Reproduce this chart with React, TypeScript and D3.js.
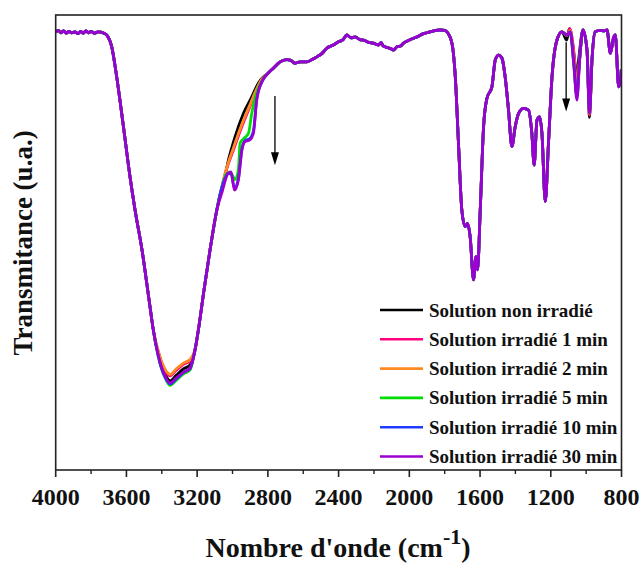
import React from 'react';
import * as d3 from 'd3';

const seriesNames = [
  'Solution non irradié',
  'Solution irradié 1 min',
  'Solution irradié 2 min',
  'Solution irradié 5 min',
  'Solution irradié 10 min',
  'Solution irradié 30 min',
];
const seriesColors = ['#000000', '#ff0080', '#ff8a24', '#00dd00', '#1f3cff', '#9a00d0'];

const xTickLabels = [4000, 3600, 3200, 2800, 2400, 2000, 1600, 1200, 800];
const xMinorTicks = [3800, 3400, 3000, 2600, 2200, 1800, 1400, 1000];

// common trace (30 min), [wavenumber cm-1, transmittance a.u.]
const baseSpectrum: [number, number][] = [
  [3998, 96.3], [3985, 96.6], [3970, 96.1], [3955, 96.5], [3940, 96.0], [3925, 96.4],
  [3910, 96.1], [3891, 96.3], [3875, 95.9], [3860, 96.4], [3845, 96.0], [3830, 96.5],
  [3815, 96.1], [3800, 96.4], [3780, 96.0], [3761, 96.3], [3727, 96.0], [3711, 95.6],
  [3683, 93.0], [3655, 86.4], [3617, 75.5], [3580, 64.5], [3551, 57.1], [3512, 48.4],
  [3472, 37.4], [3448, 30.8], [3410, 23.7], [3376, 20.2], [3353, 19.1], [3319, 20.2],
  [3278, 21.5], [3240, 22.4], [3212, 26.4], [3193, 30.8], [3161, 39.6], [3127, 48.4],
  [3089, 57.1], [3059, 61.1], [3023, 65.3], [3008, 65.5], [2989, 61.5], [2967, 63.7],
  [2947, 70.3], [2929, 72.2], [2904, 72.5], [2882, 74.0], [2863, 81.3], [2834, 85.3],
  [2804, 87.0], [2769, 88.3], [2731, 89.7], [2693, 90.2], [2674, 90.1], [2646, 89.4],
  [2618, 89.7], [2580, 89.7], [2550, 90.2], [2523, 90.8], [2495, 91.5], [2467, 92.7],
  [2430, 93.4], [2401, 94.1], [2375, 94.6], [2353, 95.6], [2330, 95.0], [2306, 95.2],
  [2280, 94.6], [2259, 94.5], [2230, 94.0], [2203, 93.8], [2175, 93.4], [2160, 93.9],
  [2148, 93.2], [2120, 92.8], [2100, 92.5], [2090, 92.3], [2070, 93.0], [2050, 93.2],
  [2033, 93.8], [2005, 94.4], [1976, 94.9], [1950, 95.3], [1927, 95.8], [1900, 96.1],
  [1882, 96.3], [1850, 96.6], [1825, 96.7], [1800, 96.6], [1787, 96.3], [1759, 93.8],
  [1740, 86.4], [1722, 71.8], [1703, 57.1], [1684, 53.5], [1671, 54.2], [1656, 51.3],
  [1637, 41.8], [1623, 46.9], [1614, 44.0], [1599, 57.1], [1580, 75.5], [1561, 81.7],
  [1533, 84.2], [1514, 90.1], [1495, 91.2], [1476, 90.5], [1458, 86.4], [1439, 79.1],
  [1420, 71.1], [1401, 75.5], [1382, 78.4], [1354, 79.5], [1326, 79.1], [1307, 74.0],
  [1294, 67.0], [1278, 76.9], [1263, 77.6], [1250, 74.0], [1231, 59.0], [1213, 71.8],
  [1193, 86.4], [1165, 94.5], [1137, 96.3], [1108, 95.6], [1090, 96.3], [1071, 90.1],
  [1052, 81.3], [1037, 90.1], [1018, 96.7], [995, 92.3], [981, 78.4], [967, 90.1],
  [949, 96.3], [920, 96.6], [900, 96.5], [882, 96.7], [863, 91.6], [845, 95.0],
  [835, 95.6], [816, 84.2], [805, 86.0], [801, 88.0],
];

// regions where the individual traces separate from the common trace
const minNonIrr: [number, number][] = [[3410, 23.9], [3376, 20.6], [3353, 19.6], [3319, 20.8], [3278, 22.2], [3240, 23.1]];
const minIrr1: [number, number][] = [[3410, 24.6], [3376, 21.5], [3353, 20.7], [3319, 21.9], [3278, 23.2], [3240, 24.0]];
const minIrr2: [number, number][] = [[3410, 24.9], [3376, 21.8], [3353, 21.0], [3319, 22.2], [3278, 23.5], [3240, 24.3]];
const minIrr5: [number, number][] = [[3410, 23.3], [3376, 19.8], [3353, 18.6], [3319, 19.7], [3278, 21.1], [3240, 22.0]];
const minIrr10: [number, number][] = [[3410, 23.5], [3376, 20.0], [3353, 18.9], [3319, 20.0], [3278, 21.4], [3240, 22.3]];

const chNonIrr: [number, number][] = [[3069, 60.8], [3042, 64.8], [3023, 68.1], [2985, 73.3], [2938, 78.4], [2891, 82.0], [2854, 85.0], [2825, 86.4]];
const chIrr1: [number, number][] = [[3069, 60.6], [3042, 65.0], [2995, 70.3], [2947, 75.5], [2901, 79.9], [2863, 83.5], [2834, 85.7]];
const chIrr2: [number, number][] = [[3069, 60.6], [3042, 65.2], [2995, 70.8], [2947, 76.0], [2901, 80.3], [2863, 83.8], [2834, 85.9]];
const chIrr5: [number, number][] = [[3069, 60.6], [3032, 65.2], [3010, 65.3], [2985, 63.8], [2967, 66.0], [2957, 71.8], [2938, 72.8], [2910, 74.0], [2891, 78.4], [2863, 83.0], [2834, 85.5]];
const chIrr10: [number, number][] = [[3069, 60.8], [3023, 65.2], [3008, 65.0], [2989, 62.0], [2967, 64.0], [2947, 70.5], [2929, 72.4], [2904, 72.8], [2882, 74.5], [2863, 81.5], [2834, 85.3]];

const fpNonIrr: [number, number][] = [[1110, 94.5], [1095, 97.0], [1078, 94.0], [1065, 90.0], [1052, 86.5], [1040, 91.0], [1018, 96.7], [995, 92.0], [981, 77.5], [967, 90.0]];
const fpIrr1: [number, number][] = [[1110, 95.5], [1092, 97.0], [1071, 92.5], [1052, 85.0], [1037, 90.5], [1018, 96.7], [995, 92.3], [981, 78.0], [967, 90.1]];
const fpIrr2: [number, number][] = [[1108, 95.5], [1090, 96.6], [1071, 91.5], [1052, 84.0], [1037, 90.3], [1018, 96.7], [995, 92.3], [981, 78.2], [967, 90.1]];
const fpIrr5: [number, number][] = [[1108, 95.6], [1090, 96.3], [1071, 89.5], [1052, 82.5], [1037, 90.0], [1018, 96.7], [995, 92.3], [981, 78.6], [967, 90.1]];
const fpIrr10: [number, number][] = [[1108, 95.6], [1090, 96.3], [1071, 89.8], [1052, 82.0], [1037, 90.1], [1018, 96.7], [995, 92.3], [981, 78.5], [967, 90.1]];

const seriesOverrides: [number, number][][][] = [
  [minNonIrr, chNonIrr, fpNonIrr],
  [minIrr1, chIrr1, fpIrr1],
  [minIrr2, chIrr2, fpIrr2],
  [minIrr5, chIrr5, fpIrr5],
  [minIrr10, chIrr10, fpIrr10],
  [],
];

// arrows: [wavenumber, from T, to T]
const arrows: [number, number, number][] = [
  [2760, 82.2, 67.0],
  [1113, 94.0, 78.8],
];

function buildSeries(segments: [number, number][][]): [number, number][] {
  const ranges = segments.map((s) => [d3.min(s, (d) => d[0])!, d3.max(s, (d) => d[0])!]);
  const kept = baseSpectrum.filter(([w]) => !ranges.some(([a, b]) => w >= a && w <= b));
  const all = kept.concat(...segments);
  return all.sort((a, b) => b[0] - a[0]);
}

const W = 641;
const H = 565;
const L = 55.7;
const R = 621.5;
const T = 15;
const B = 470;
const FONT = '"Liberation Serif", "Times New Roman", serif';

export default function App() {
  const x = d3.scaleLinear().domain([4000, 800]).range([L, R]);
  const y = d3.scaleLinear().domain([0, 100]).range([B, T]);
  const line = d3
    .line<[number, number]>()
    .x((d) => x(d[0]))
    .y((d) => y(d[1]))
    .curve(d3.curveMonotoneX);

  const data = seriesOverrides.map((o) => buildSeries(o));

  const legendX0 = 380;
  const legendX1 = 423;
  const legendY0 = 310;
  const legendDy = 29.3;

  return (
    <svg
      width={W}
      height={H}
      style={{ position: 'absolute', left: 0, top: 0, background: '#fff' }}
      fontFamily={FONT}
    >
      <defs>
        <clipPath id="plotclip">
          <rect x={L} y={T} width={R - L} height={B - T} />
        </clipPath>
      </defs>
      <g clipPath="url(#plotclip)">
        {data.map((d, i) => (
          <path
            key={i}
            d={line(d) || ''}
            fill="none"
            stroke={seriesColors[i]}
            strokeWidth={2.8}
            strokeLinejoin="round"
          />
        ))}
      </g>
      {/* frame */}
      <rect x={L} y={T} width={R - L} height={B - T} fill="none" stroke="#222" strokeWidth={1.6} />
      {/* x ticks */}
      {xTickLabels.map((t) => (
        <g key={'M' + t}>
          <line x1={x(t)} x2={x(t)} y1={B} y2={B + 7} stroke="#222" strokeWidth={1.6} />
          <text
            x={x(t)}
            y={B + 35}
            textAnchor="middle"
            fontSize={24}
            fontWeight="bold"
            fill="#111"
          >
            {t}
          </text>
        </g>
      ))}
      {xMinorTicks.map((t) => (
        <line key={'m' + t} x1={x(t)} x2={x(t)} y1={B} y2={B + 4} stroke="#222" strokeWidth={1.4} />
      ))}
      {/* axis titles */}
      <text
        x={338}
        y={557}
        textAnchor="middle"
        fontSize={28}
        fontWeight="bold"
        fill="#111"
      >
        Nombre d'onde (cm
        <tspan dy={-13} fontSize={22}>-1</tspan>
        <tspan dy={13}>)</tspan>
      </text>
      <text
        transform="translate(32,243) rotate(-90)"
        textAnchor="middle"
        fontSize={27}
        fontWeight="bold"
        fill="#111"
      >
        Transmitance (u.a.)
      </text>
      {/* arrows */}
      {arrows.map(([w, t0, t1], i) => {
        const ax = x(w);
        const ay0 = y(t0);
        const ay1 = y(t1);
        return (
          <g key={'a' + i}>
            <line x1={ax} x2={ax} y1={ay0} y2={ay1 - 10} stroke="#000" strokeWidth={1.3} />
            <path d={`M${ax - 4},${ay1 - 13} L${ax + 4},${ay1 - 13} L${ax},${ay1} Z`} fill="#000" />
          </g>
        );
      })}
      {/* legend */}
      {seriesNames.map((n, i) => (
        <g key={'l' + i}>
          <line
            x1={legendX0}
            x2={legendX1}
            y1={legendY0 + i * legendDy}
            y2={legendY0 + i * legendDy}
            stroke={seriesColors[i]}
            strokeWidth={2.6}
          />
          <text
            x={429}
            y={legendY0 + i * legendDy + 6.5}
            fontSize={19}
            fontWeight="bold"
            fill="#111"
          >
            {n}
          </text>
        </g>
      ))}
    </svg>
  );
}
